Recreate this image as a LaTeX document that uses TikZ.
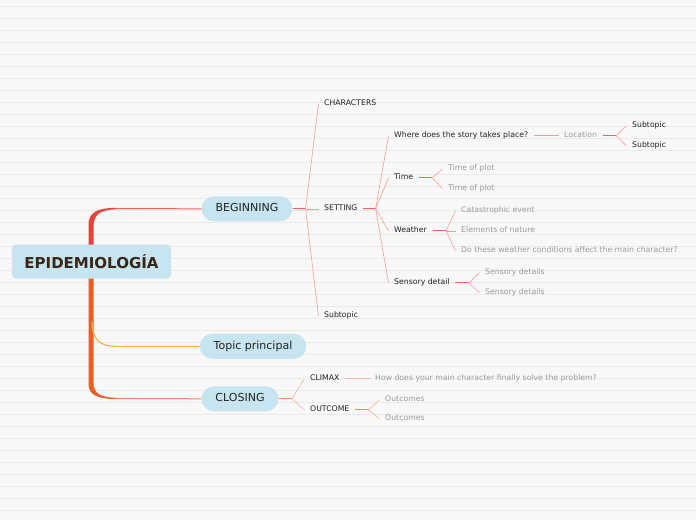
\documentclass[tikz,border=0pt]{standalone}
\usepackage{fontspec}
\setmainfont{DejaVu Sans}
\usetikzlibrary{positioning}
\definecolor{PaperGray}{RGB}{248, 248, 248}
\definecolor{RuleGray}{RGB}{234, 234, 234}
\definecolor{TopicBlue}{RGB}{198, 229, 240}
\definecolor{RootBrown}{RGB}{58, 36, 21}
\definecolor{DarkText}{RGB}{34, 34, 34}
\definecolor{FaintText}{RGB}{155, 155, 155}
\definecolor{TrunkRed}{RGB}{232, 65, 58}
\definecolor{TrunkOrange}{RGB}{238, 92, 40}
\definecolor{TopicAmber}{RGB}{247, 181, 67}
\definecolor{BeginRed}{RGB}{242, 100, 90}
\definecolor{BeginPink}{RGB}{245, 158, 152}
\definecolor{CloseOrange}{RGB}{242, 134, 100}
\definecolor{ClosePeach}{RGB}{247, 180, 156}

\begin{document}
\begin{tikzpicture}[x=1pt, y=-1pt,
    rootbox/.style={fill=TopicBlue, rounded corners=4pt, minimum height=34pt, inner xsep=12.5pt,
      font=\fontsize{15}{18}\selectfont\bfseries, text=RootBrown},
    topic/.style={fill=TopicBlue, rounded corners=12.5pt, minimum height=25pt, inner xsep=14pt,
      font=\fontsize{11}{13}\selectfont, text=DarkText, text height=8pt, text depth=2.2pt},
    leaf/.style={anchor=west, inner xsep=5.5pt, inner ysep=0.5pt, font=\fontsize{7.75}{9}\selectfont,
      text=DarkText, text height=5.6pt, text depth=1.6pt, yshift=-0.8pt},
    faint/.style={leaf, text=FaintText},
    stem/.style={line width=1.3pt},
    twig/.style={line width=0.6pt}]
    \useasboundingbox (0,0) rectangle (696,520);

    % Ruled paper
    \fill[PaperGray] (0,0) rectangle (696,520);
    \foreach \k in {0,...,42}
      \draw[RuleGray, line width=1pt] (0,6+12*\k) -- (696,6+12*\k);

    % Trunk
    \fill[TrunkRed] (88.5,250) -- (88.5,225) .. controls (88.5,212) and (98,207.9) .. (116,207.9)
      -- (116,209.3) .. controls (100,209.7) and (93.5,214.5) .. (93.5,226.5) -- (93.5,250) -- cycle;
    \fill[TrunkOrange] (88.5,246) -- (88.5,384) .. controls (88.5,395) and (98,399) .. (116,399)
      -- (116,397.8) .. controls (100,397.4) and (93.5,393) .. (93.5,383) -- (93.5,246) -- cycle;
    \draw[TopicAmber, line width=1.2pt] (92,322) .. controls (92.5,340) and (100,346.3) .. (116,346.3);

    % Main topics
    \node[rootbox] (root) at (91.5,261.5) {EPIDEMIOLOGÍA};
    \node[topic] (beginning) at (247,208.8) {BEGINNING};
    \node[topic] (principal) at (253,346.3) {Topic principal};
    \node[topic] (closing) at (240,398.8) {CLOSING};

    \coordinate (bendtop) at (115,208.6);
    \coordinate (bendmid) at (115,346.3);
    \coordinate (bendlow) at (115,398.4);
    \draw[BeginRed, line width=1pt] (bendtop) -- (beginning.west);
    \draw[TopicAmber, line width=1pt] (bendmid) -- (principal.west);
    \draw[CloseOrange, line width=1pt] (bendlow) -- (closing.west);

    % Beginning
    \node[leaf] (characters) at (318.5,103) {CHARACTERS};
    \node[leaf] (setting) at (318.5,208) {SETTING};
    \node[leaf] (subtopicA) at (318.5,315) {Subtopic};

    \node[leaf] (where) at (388.5,135) {Where does the story takes place?};
    \node[leaf] (time) at (388.5,177) {Time};
    \node[leaf] (weather) at (388.5,230) {Weather};
    \node[leaf] (sensory) at (388.5,282) {Sensory detail};

    \node[faint] (location) at (558.5,135) {Location};
    \node[leaf] (subtopicB) at (626.5,125) {Subtopic};
    \node[leaf] (subtopicC) at (626.5,145) {Subtopic};

    \node[faint] (timeA) at (442.5,168) {Time of plot};
    \node[faint] (timeB) at (442.5,188) {Time of plot};

    \node[faint] (catastrophic) at (455.5,210) {Catastrophic event};
    \node[faint] (elements) at (455.5,230) {Elements of nature};
    \node[faint] (question) at (455.5,250) {Do these weather conditions affect the main character?};

    \node[faint] (sensoryA) at (479.5,272) {Sensory details};
    \node[faint] (sensoryB) at (479.5,292) {Sensory details};

    \path (beginning.east) ++(13,0) coordinate (beginfork);
    \draw[stem, BeginRed] (beginning.east) -- (beginfork);
    \foreach \n in {characters, setting, subtopicA}
      \draw[twig, BeginPink] (beginfork) -- (\n.west);

    \path (setting.east) ++(12.5,0) coordinate (settingfork);
    \draw[stem, BeginRed] (setting.east) -- (settingfork);
    \foreach \n in {where, time, weather, sensory}
      \draw[twig, BeginPink] (settingfork) -- (\n.west);

    \draw[line width=0.9pt, BeginPink] (where.east) -- (location.west);

    \path (location.east) ++(13.5,0) coordinate (locationfork);
    \draw[stem, BeginRed] (location.east) -- (locationfork);
    \foreach \n in {subtopicB, subtopicC}
      \draw[twig, BeginPink] (locationfork) -- (\n.west);

    \path (time.east) ++(13.5,0) coordinate (timefork);
    \draw[stem, BeginRed] (time.east) -- (timefork);
    \foreach \n in {timeA, timeB}
      \draw[twig, BeginPink] (timefork) -- (\n.west);

    \path (weather.east) ++(13.5,0) coordinate (weatherfork);
    \draw[stem, BeginRed] (weather.east) -- (weatherfork);
    \foreach \n in {catastrophic, elements, question}
      \draw[twig, BeginPink] (weatherfork) -- (\n.west);

    \path (sensory.east) ++(13.5,0) coordinate (sensoryfork);
    \draw[stem, BeginRed] (sensory.east) -- (sensoryfork);
    \foreach \n in {sensoryA, sensoryB}
      \draw[twig, BeginPink] (sensoryfork) -- (\n.west);

    % Closing
    \node[leaf] (climax) at (304.5,378) {CLIMAX};
    \node[leaf] (outcome) at (304.5,409) {OUTCOME};
    \node[faint] (solve) at (369.5,378) {How does your main character finally solve the problem?};
    \node[faint] (outcomeA) at (379.5,399) {Outcomes};
    \node[faint] (outcomeB) at (379.5,418) {Outcomes};

    \path (closing.east) ++(13,0) coordinate (closingfork);
    \draw[stem, CloseOrange] (closing.east) -- (closingfork);
    \foreach \n in {climax, outcome}
      \draw[twig, ClosePeach] (closingfork) -- (\n.west);

    \draw[line width=0.9pt, ClosePeach] (climax.east) -- (solve.west);

    \path (outcome.east) ++(13.5,0) coordinate (outcomefork);
    \draw[stem, CloseOrange] (outcome.east) -- (outcomefork);
    \foreach \n in {outcomeA, outcomeB}
      \draw[twig, ClosePeach] (outcomefork) -- (\n.west);
  \end{tikzpicture}
\end{document}
